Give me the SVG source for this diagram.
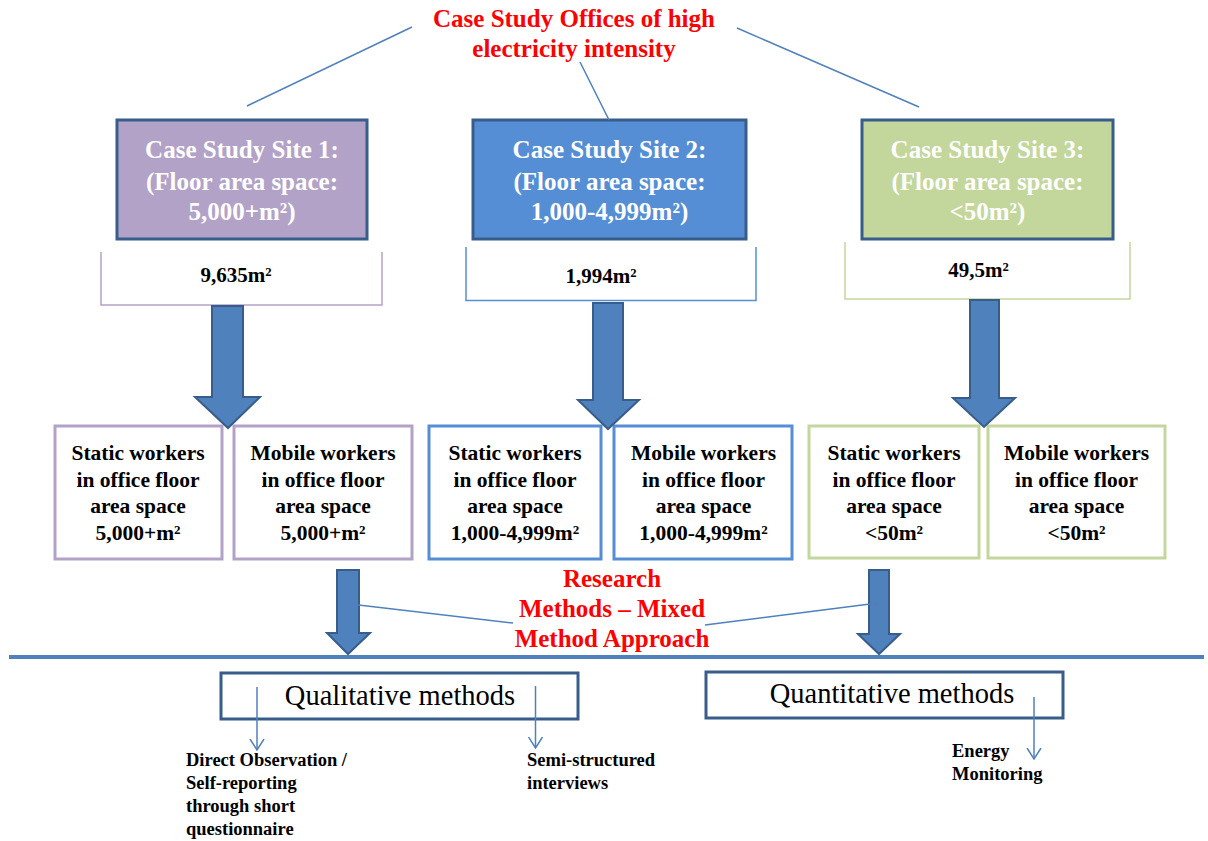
<svg xmlns="http://www.w3.org/2000/svg" width="1208" height="841" viewBox="0 0 1208 841">
  <defs>
    <style>
      text { font-family: "Liberation Serif", "Times New Roman", serif; }
      .red { fill: #FF0000; font-weight: bold; font-size: 25px; text-anchor: middle; }
      .site { fill: #FFFFFF; font-weight: bold; font-size: 25px; text-anchor: middle; }
      .area { fill: #000000; font-weight: bold; font-size: 21px; text-anchor: middle; }
      .work { fill: #000000; font-weight: bold; font-size: 21.5px; text-anchor: middle; }
      .meth { fill: #000000; font-size: 28.5px; text-anchor: middle; }
      .small { fill: #000000; font-weight: bold; font-size: 18.5px; }
      .thin { stroke: #4F81BD; stroke-width: 1.5; fill: none; }
      .block { fill: #4F81BD; stroke: #385D8A; stroke-width: 2; stroke-linejoin: miter; }
      .sitebox { stroke: #385D8A; stroke-width: 3; }
      .methbox { fill: #FFFFFF; stroke: #385D8A; stroke-width: 3; }
    </style>
    <!-- open V arrowhead; marker x-axis follows the line direction -->
    <marker id="vhead" viewBox="0 0 12 16" refX="11" refY="8" markerWidth="12" markerHeight="16" markerUnits="userSpaceOnUse" orient="auto">
      <path d="M0,1 L11,8 L0,15" fill="none" stroke="#4F81BD" stroke-width="1.5"/>
    </marker>
    <filter id="soft" x="-5%" y="-200%" width="110%" height="500%">
      <feGaussianBlur stdDeviation="1.2"/>
    </filter>
  </defs>

  <rect width="1208" height="841" fill="#FFFFFF"/>

  <!-- title -->
  <g id="title">
    <text class="red" x="574" y="27">Case Study Offices of high</text>
    <text class="red" x="574" y="57">electricity intensity</text>
  </g>

  <!-- site 1 -->
  <g id="site1">
    <rect class="sitebox" x="117" y="120" width="250" height="119" fill="#B3A2C7"/>
    <text class="site" x="242" y="158">Case Study Site 1:</text>
    <text class="site" x="242" y="190">(Floor area space:</text>
    <text class="site" x="242" y="220">5,000+m²)</text>
  </g>
  <g id="area1">
    <path d="M101,252 V305 H382 V252" fill="none" stroke="#B3A2C7" stroke-width="1.5"/>
    <text class="area" x="236" y="282">9,635m²</text>
  </g>

  <!-- site 2 -->
  <g id="site2">
    <rect class="sitebox" x="473" y="120" width="273" height="119" fill="#558ED5"/>
    <text class="site" x="609.5" y="158">Case Study Site 2:</text>
    <text class="site" x="609.5" y="190">(Floor area space:</text>
    <text class="site" x="609.5" y="220">1,000-4,999m²)</text>
  </g>
  <g id="area2">
    <path d="M466,247 V300.5 H756 V247" fill="none" stroke="#558ED5" stroke-width="1.5"/>
    <text class="area" x="601" y="283">1,994m²</text>
  </g>

  <!-- site 3 -->
  <g id="site3">
    <rect class="sitebox" x="862" y="120" width="251" height="119" fill="#C3D69B"/>
    <text class="site" x="987.5" y="158">Case Study Site 3:</text>
    <text class="site" x="987.5" y="190">(Floor area space:</text>
    <text class="site" x="987.5" y="220">&lt;50m²)</text>
  </g>
  <g id="area3">
    <path d="M845,242 V299 H1130 V242" fill="none" stroke="#C3D69B" stroke-width="1.5"/>
    <text class="area" x="978.5" y="277">49,5m²</text>
  </g>

  <!-- worker groups -->
  <g id="static1">
    <rect x="55" y="426" width="167" height="133" fill="#FFFFFF" stroke="#B3A2C7" stroke-width="3"/>
    <text class="work" x="138" y="460">Static workers</text>
    <text class="work" x="138" y="487">in office floor</text>
    <text class="work" x="138" y="513">area space</text>
    <text class="work" x="138" y="540">5,000+m²</text>
  </g>
  <g id="mobile1">
    <rect x="234" y="426" width="178" height="133" fill="#FFFFFF" stroke="#B3A2C7" stroke-width="3"/>
    <text class="work" x="323" y="460">Mobile workers</text>
    <text class="work" x="323" y="487">in office floor</text>
    <text class="work" x="323" y="513">area space</text>
    <text class="work" x="323" y="540">5,000+m²</text>
  </g>
  <g id="static2">
    <rect x="429" y="426" width="172" height="133" fill="#FFFFFF" stroke="#558ED5" stroke-width="3"/>
    <text class="work" x="515" y="460">Static workers</text>
    <text class="work" x="515" y="487">in office floor</text>
    <text class="work" x="515" y="513">area space</text>
    <text class="work" x="515" y="540">1,000-4,999m²</text>
  </g>
  <g id="mobile2">
    <rect x="614" y="426" width="178" height="133" fill="#FFFFFF" stroke="#558ED5" stroke-width="3"/>
    <text class="work" x="703.5" y="460">Mobile workers</text>
    <text class="work" x="703.5" y="487">in office floor</text>
    <text class="work" x="703.5" y="513">area space</text>
    <text class="work" x="703.5" y="540">1,000-4,999m²</text>
  </g>
  <g id="static3">
    <rect x="809" y="426" width="170" height="132" fill="#FFFFFF" stroke="#C3D69B" stroke-width="3"/>
    <text class="work" x="894" y="460">Static workers</text>
    <text class="work" x="894" y="487">in office floor</text>
    <text class="work" x="894" y="513">area space</text>
    <text class="work" x="894" y="540">&lt;50m²</text>
  </g>
  <g id="mobile3">
    <rect x="988" y="426" width="177" height="132" fill="#FFFFFF" stroke="#C3D69B" stroke-width="3"/>
    <text class="work" x="1076.5" y="460">Mobile workers</text>
    <text class="work" x="1076.5" y="487">in office floor</text>
    <text class="work" x="1076.5" y="513">area space</text>
    <text class="work" x="1076.5" y="540">&lt;50m²</text>
  </g>

  <!-- research methods label -->
  <g id="research">
    <text class="red" x="612" y="587">Research</text>
    <text class="red" x="612" y="617">Methods – Mixed</text>
    <text class="red" x="612" y="647">Method Approach</text>
  </g>

  <!-- method boxes -->
  <g id="qualitative">
    <rect class="methbox" x="221" y="673" width="357" height="46"/>
    <text class="meth" x="400" y="705">Qualitative methods</text>
  </g>
  <g id="quantitative">
    <rect class="methbox" x="706" y="672" width="357" height="46"/>
    <text class="meth" x="892" y="703">Quantitative methods</text>
  </g>

  <!-- method items -->
  <g id="observation">
    <text class="small" x="186" y="766">Direct Observation /</text>
    <text class="small" x="186" y="789">Self-reporting</text>
    <text class="small" x="186" y="812">through short</text>
    <text class="small" x="186" y="835">questionnaire</text>
  </g>
  <g id="interviews">
    <text class="small" x="527" y="766">Semi-structured</text>
    <text class="small" x="527" y="789">interviews</text>
  </g>
  <g id="monitoring">
    <text class="small" x="952" y="757">Energy</text>
    <text class="small" x="952" y="780">Monitoring</text>
  </g>

  <!-- connectors: thin lines, block arrows, divider (drawn over the boxes) -->
  <g id="connectors">
    <line class="thin" x1="412" y1="27" x2="247" y2="106"/>
    <line class="thin" x1="580" y1="62" x2="609" y2="120"/>
    <line class="thin" x1="737" y1="28" x2="919" y2="107"/>

    <path class="block" d="M212,306 H243 V397 H260 L228,428 L195,397 H212 Z"/>
    <path class="block" d="M593,303 H623 V400 H639 L608,429 L578,400 H593 Z"/>
    <path class="block" d="M970,300 H999 V398 H1015 L984,427 L953,398 H970 Z"/>

    <path class="block" d="M337,570 H359 V633 H370 L348,654 L327,633 H337 Z"/>
    <path class="block" d="M869,570 H889 V634 H900 L879,654 L858,634 H869 Z"/>

    <line class="thin" x1="350" y1="604" x2="513" y2="623"/>
    <line class="thin" x1="705" y1="625" x2="878" y2="603"/>

    <line x1="10" y1="660" x2="1204" y2="660" stroke="#8C8C8C" stroke-width="3" opacity="0.6" filter="url(#soft)"/>
    <line x1="9" y1="657" x2="1204" y2="657" stroke="#4F81BD" stroke-width="4"/>

    <line class="thin" x1="257" y1="687" x2="257" y2="750" marker-end="url(#vhead)"/>
    <line class="thin" x1="535.5" y1="686" x2="535.5" y2="748" marker-end="url(#vhead)"/>
    <line class="thin" x1="1034" y1="697" x2="1034" y2="759" marker-end="url(#vhead)"/>
  </g>
</svg>
